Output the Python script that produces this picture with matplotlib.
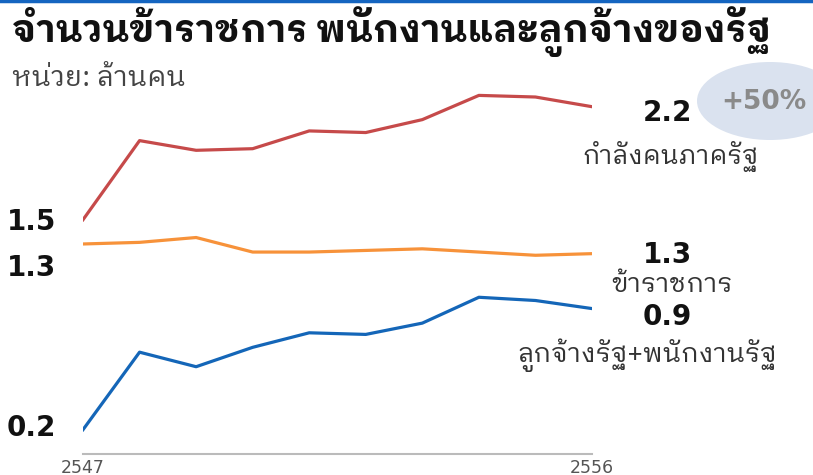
import matplotlib
matplotlib.use("Agg")
import matplotlib.pyplot as plt
from matplotlib.patches import Ellipse

# ข้อมูล (ล้านคน) อ่านจากภาพ
years = [2547, 2548, 2549, 2550, 2551, 2552, 2553, 2554, 2555, 2556]
public_workforce = [1.50, 1.99, 1.93, 1.94, 2.05, 2.04, 2.12, 2.27, 2.26, 2.20]
civil_servants = [1.35, 1.36, 1.39, 1.30, 1.30, 1.31, 1.32, 1.30, 1.28, 1.29]
state_employees = [0.20, 0.68, 0.59, 0.71, 0.80, 0.79, 0.86, 1.02, 1.00, 0.95]

title = "จำนวนข้าราชการ พนักงานและลูกจ้างของรัฐ"
unit = "หน่วย: ล้านคน"
names = ["กำลังคนภาครัฐ", "ข้าราชการ", "ลูกจ้างรัฐ+พนักงานรัฐ"]
start_labels = ["1.5", "1.3", "0.2"]
end_labels = ["2.2", "1.3", "0.9"]
change_label = "+50%"
tick_labels = ["2547", "2556"]

plt.rcParams["font.family"] = ["IBM Plex Sans Thai Looped", "Noto Sans Thai Looped", "DejaVu Sans"]

W, H = 813, 475
fig = plt.figure(figsize=(W / 100, H / 100), dpi=100)
fig.patch.set_facecolor("white")

# แกนกราฟ: 2547 อยู่ที่ x=83px, 2556 ที่ x=592px
left, right = 83, 592
bottom_px, top_px = 462, 462 - 2.4 * 161.5
ax = fig.add_axes([left / W, 1 - bottom_px / H, (right - left) / W, (bottom_px - top_px) / H])
ax.set_xlim(years[0], years[-1])
ax.set_ylim(0, 2.4)
ax.patch.set_alpha(0)

ax.plot(years, public_workforce, color="#c64a4a", lw=2.3)
ax.plot(years, civil_servants, color="#f7923a", lw=2.3)
ax.plot(years, state_employees, color="#1466b8", lw=2.3)

for s in ["top", "right", "left"]:
    ax.spines[s].set_visible(False)
ax.spines["bottom"].set_position(("data", 0.05))
ax.spines["bottom"].set_color("#bbbbbb")
ax.spines["bottom"].set_linewidth(1.5)
ax.set_yticks([])
ax.set_xticks([years[0], years[-1]])
ax.set_xticklabels(tick_labels, fontsize=12.5, color="#555555", family="DejaVu Sans")
ax.tick_params(axis="x", length=0, pad=4)


def px(x, y):
    # พิกัดพิกเซลจากมุมซ้ายบน -> พิกัด figure
    return x / W, 1 - y / H


# เส้นขอบบนสีน้ำเงิน
fig.add_artist(plt.Line2D([0, 1], [1 - 1 / H, 1 - 1 / H], color="#1565c0", lw=2.5))

fig.text(*px(12, 32), title, fontsize=27, fontweight="bold", color="#111111", va="center", ha="left")
fig.text(*px(12, 79), unit, fontsize=20, color="#444444", va="center", ha="left")

# วงรี +50%
ell = Ellipse(px(770, 101), 146 / W, 78 / H, transform=fig.transFigure,
              facecolor="#dae2ef", edgecolor="none", zorder=0)
fig.add_artist(ell)
fig.text(*px(764, 102), change_label, fontsize=19, fontweight="bold", color="#8a8a8a",
         va="center", ha="center", family="DejaVu Sans")

num_font = dict(fontsize=20, fontweight="bold", color="#111111", va="center", family="DejaVu Sans")
for lab, y in zip(start_labels, [222, 268, 428]):
    fig.text(*px(7, y), lab, ha="left", **num_font)
for lab, y in zip(end_labels, [113, 255, 317]):
    fig.text(*px(667, y), lab, ha="center", **num_font)

for name, (x, y), fs in zip(names, [(670, 156), (672, 284), (647, 355)], [18.5, 19, 19]):
    fig.text(*px(x, y), name, fontsize=fs, color="#333333", va="center", ha="center")

fig.savefig("out.png", dpi=100)
